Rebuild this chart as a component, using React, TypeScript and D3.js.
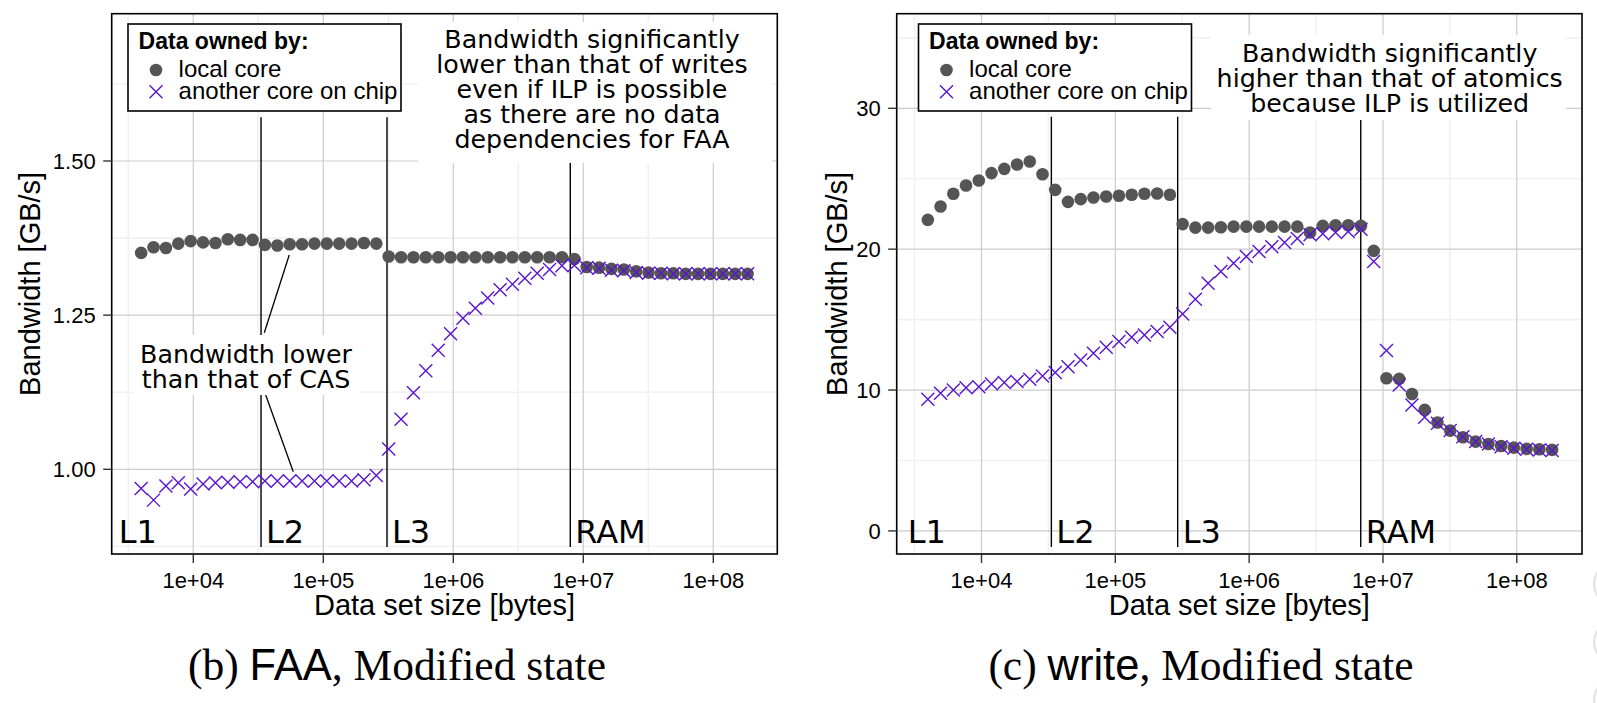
import React from "react";
import * as d3 from "d3";

// Data set sizes in bytes (x values shared by all series)
const sizes = [3972, 4945, 6157, 7665, 9545, 11885, 14799, 18427, 22944, 28568,
  35563, 44284, 55130, 68644, 85468, 106414, 132495, 164967, 205404, 255750,
  318420, 396460, 493630, 614630, 765250, 952820, 1186300, 1477100, 1839100, 2289900,
  2851000, 3549900, 4419900, 5503200, 6851900, 8531300, 10622000, 13225000, 16467000, 20503000,
  25527000, 31784000, 39574000, 49273000, 61350000, 76384000, 95106000, 118410000, 147430000, 183570000];

const faaLocal = [1.351, 1.360, 1.359, 1.366, 1.370, 1.368, 1.367, 1.373, 1.372, 1.372,
  1.364, 1.363, 1.365, 1.365, 1.366, 1.366, 1.366, 1.366, 1.367, 1.366,
  1.345, 1.344, 1.344, 1.344, 1.344, 1.344, 1.344, 1.344, 1.344, 1.344,
  1.344, 1.344, 1.344, 1.344, 1.344, 1.341, 1.328, 1.327, 1.325, 1.324,
  1.321, 1.319, 1.318, 1.318, 1.317, 1.317, 1.317, 1.317, 1.317, 1.317];

const faaRemote = [0.969, 0.950, 0.973, 0.978, 0.968, 0.976, 0.978, 0.979, 0.980, 0.980,
  0.981, 0.981, 0.981, 0.981, 0.981, 0.981, 0.981, 0.981, 0.983, 0.990,
  1.033, 1.081, 1.124, 1.160, 1.193, 1.220, 1.245, 1.261, 1.278, 1.291,
  1.300, 1.310, 1.318, 1.324, 1.330, 1.331, 1.327, 1.326, 1.323, 1.322,
  1.319, 1.318, 1.318, 1.317, 1.317, 1.317, 1.317, 1.317, 1.317, 1.317];

const writeLocal = [22.08, 23.03, 23.93, 24.52, 24.87, 25.40, 25.70, 26.01, 26.22, 25.32,
  24.21, 23.36, 23.55, 23.67, 23.74, 23.79, 23.86, 23.93, 23.95, 23.86,
  21.78, 21.53, 21.53, 21.56, 21.60, 21.60, 21.60, 21.60, 21.60, 21.60,
  21.18, 21.65, 21.70, 21.70, 21.65, 19.88, 10.84, 10.79, 9.72, 8.59,
  7.69, 7.12, 6.65, 6.34, 6.17, 6.03, 5.91, 5.82, 5.80, 5.75];

const writeRemote = [9.35, 9.77, 10.00, 10.17, 10.24, 10.43, 10.53, 10.60, 10.77, 11.00,
  11.24, 11.66, 12.14, 12.61, 13.04, 13.44, 13.75, 13.91, 14.15, 14.46,
  15.40, 16.45, 17.58, 18.41, 19.00, 19.48, 19.83, 20.18, 20.47, 20.75,
  21.02, 21.09, 21.18, 21.25, 21.42, 19.12, 12.80, 10.36, 8.94, 8.07,
  7.64, 7.12, 6.69, 6.34, 6.17, 5.98, 5.87, 5.80, 5.75, 5.70];

const xTicks = [1e4, 1e5, 1e6, 1e7, 1e8];
const xTickLabels = ["1e+04", "1e+05", "1e+06", "1e+07", "1e+08"];
const xMinor = [10 ** 3.5, 10 ** 4.5, 10 ** 5.5, 10 ** 6.5, 10 ** 7.5];

const faaYTicks = [1.0, 1.25, 1.5];
const faaYTickLabels = ["1.00", "1.25", "1.50"];
const faaYMinor = [0.875, 1.125, 1.375, 1.625];

const writeYTicks = [0, 10, 20, 30];
const writeYTickLabels = ["0", "10", "20", "30"];
const writeYMinor = [5, 15, 25, 35];

const cacheLabels = ["L1", "L2", "L3", "RAM"];
const faaCacheLines = [33190, 309000, 7940000];
const writeCacheLines = [33270, 292400, 6820000];

const legendTitle = "Data owned by:";
const legendLabels = ["local core", "another core on chip"];

const faaNote = ["Bandwidth significantly", "lower than that of writes", "even if ILP is possible", "as there are no data", "dependencies for FAA"];
const writeNote = ["Bandwidth significantly", "higher than that of atomics", "because ILP is utilized"];
const faaNote2 = ["Bandwidth lower", "than that of CAS"];

const SANS = "'Liberation Sans', Arial, Helvetica, sans-serif";
const DEJAVU = "'DejaVu Sans', sans-serif";
const SERIF = "'Liberation Serif', 'Times New Roman', serif";
const DOT = "#555555";
const CROSS = "#5a14d2";

type PanelProps = {
  x0: number; x1: number; y0: number; y1: number;
  xr: [number, number];
  yDom: [number, number]; yr: [number, number];
  yTicks: number[]; yTickLabels: string[]; yMinor: number[];
  local: number[]; remote: number[];
  cache: number[]; cacheTop: number; cacheBottom: number;
  l1Offset: number;
  titleX: number;
};

function cross(x: number, y: number, s: number) {
  return `M${x - s},${y - s}L${x + s},${y + s}M${x - s},${y + s}L${x + s},${y - s}`;
}

function Legend({ x, y }: { x: number; y: number }) {
  return (
    <g>
      <rect x={x} y={y} width={273} height={87} fill="white" stroke="black" strokeWidth={1.6} />
      <text x={x + 10.6} y={y + 25.3} fontFamily={SANS} fontWeight="bold" fontSize={23}>{legendTitle}</text>
      <circle cx={x + 28} cy={y + 46} r={6.3} fill={DOT} />
      <path d={cross(x + 28, y + 67.7, 6.5)} stroke={CROSS} strokeWidth={1.4} fill="none" />
      <text x={x + 50.6} y={y + 53.3} fontFamily={SANS} fontSize={24}>{legendLabels[0]}</text>
      <text x={x + 50.6} y={y + 75.3} fontFamily={SANS} fontSize={24}>{legendLabels[1]}</text>
    </g>
  );
}

function Note({ lines, cx, firstBaseline, box }: { lines: string[]; cx: number; firstBaseline: number; box: [number, number, number, number] }) {
  return (
    <g>
      <rect x={box[0]} y={box[1]} width={box[2] - box[0]} height={box[3] - box[1]} fill="white" />
      {lines.map((l, i) => (
        <text key={i} x={cx} y={firstBaseline + i * 25} textAnchor="middle" fontFamily={DEJAVU} fontSize={25.3}>{l}</text>
      ))}
    </g>
  );
}

function Panel(p: PanelProps & { children?: React.ReactNode }) {
  const x = d3.scaleLog().domain([1e4, 1e8]).range(p.xr);
  const y = d3.scaleLinear().domain(p.yDom).range(p.yr);
  const inX = (v: number) => x(v) >= p.x0 && x(v) <= p.x1;
  const inY = (v: number) => y(v) >= p.y0 && y(v) <= p.y1;
  return (
    <g>
      <rect x={p.x0} y={p.y0} width={p.x1 - p.x0} height={p.y1 - p.y0} fill="white" />
      {xMinor.filter(inX).map((v, i) => (
        <line key={"xm" + i} x1={x(v)} x2={x(v)} y1={p.y0} y2={p.y1} stroke="#f1f1f1" strokeWidth={1.6} />
      ))}
      {p.yMinor.filter(inY).map((v, i) => (
        <line key={"ym" + i} x1={p.x0} x2={p.x1} y1={y(v)} y2={y(v)} stroke="#f1f1f1" strokeWidth={1.6} />
      ))}
      {xTicks.map((v, i) => (
        <line key={"xg" + i} x1={x(v)} x2={x(v)} y1={p.y0} y2={p.y1} stroke="#cbcbcb" strokeWidth={1.2} />
      ))}
      {p.yTicks.map((v, i) => (
        <line key={"yg" + i} x1={p.x0} x2={p.x1} y1={y(v)} y2={y(v)} stroke="#cbcbcb" strokeWidth={1.2} />
      ))}
      {p.cache.map((v, i) => (
        <line key={"c" + i} x1={x(v)} x2={x(v)} y1={y(p.cacheTop)} y2={y(p.cacheBottom)} stroke="black" strokeWidth={1.4} />
      ))}
      {cacheLabels.map((l, i) => (
        <text key={"cl" + i} x={i === 0 ? p.x0 + p.l1Offset : x(p.cache[i - 1]) + 5} y={543.3}
          fontFamily={DEJAVU} fontSize={32}>{l}</text>
      ))}
      {p.children}
      {p.local.map((v, i) => (
        <circle key={"d" + i} cx={x(sizes[i])} cy={y(v)} r={6.3} fill={DOT} />
      ))}
      {p.remote.map((v, i) => (
        <path key={"r" + i} d={cross(x(sizes[i]), y(v), 6.5)} stroke={CROSS} strokeWidth={1.4} fill="none" />
      ))}
      <rect x={p.x0} y={p.y0} width={p.x1 - p.x0} height={p.y1 - p.y0} fill="none" stroke="black" strokeWidth={1.6} />
      {p.yTicks.map((v, i) => (
        <g key={"yt" + i}>
          <line x1={p.x0 - 8.5} x2={p.x0} y1={y(v)} y2={y(v)} stroke="#333" strokeWidth={1.4} />
          <text x={p.x0 - 16} y={y(v) + 7.8} textAnchor="end" fontFamily={SANS} fontSize={22}>{p.yTickLabels[i]}</text>
        </g>
      ))}
      {xTicks.map((v, i) => (
        <g key={"xt" + i}>
          <line x1={x(v)} x2={x(v)} y1={p.y1} y2={p.y1 + 9} stroke="#333" strokeWidth={1.4} />
          <text x={x(v)} y={587.5} textAnchor="middle" fontFamily={SANS} fontSize={22}>{xTickLabels[i]}</text>
        </g>
      ))}
      <text x={(p.x0 + p.x1) / 2} y={614.5} textAnchor="middle" fontFamily={SANS} fontSize={29}>Data set size [bytes]</text>
      <text transform={`translate(${p.titleX},${(p.y0 + p.y1) / 2}) rotate(-90)`} textAnchor="middle" fontFamily={SANS} fontSize={29}>Bandwidth [GB/s]</text>
    </g>
  );
}

export default function App() {
  const xl = d3.scaleLog().domain([1e4, 1e8]).range([193.3, 713.3]);
  const yl = d3.scaleLinear().domain([1.0, 1.5]).range([469.3, 161]);
  return (
    <svg width={1597} height={703} style={{ position: "absolute", left: 0, top: 0, background: "white" }}>
      <rect x={0} y={0} width={1597} height={703} fill="white" />
      <Panel x0={111.7} x1={777.3} y0={13.7} y1={554} xr={[193.3, 713.3]}
        yDom={[1.0, 1.5]} yr={[469.3, 161]} yTicks={faaYTicks} yTickLabels={faaYTickLabels} yMinor={faaYMinor}
        local={faaLocal} remote={faaRemote} cache={faaCacheLines} cacheTop={1.571} cacheBottom={0.874}
        l1Offset={7} titleX={40.4}>
        <Legend x={128} y={24} />
        <Note lines={faaNote} cx={592} firstBaseline={48.3} box={[418, 22, 772, 163]} />
        <line x1={xl(54700)} y1={yl(1.3476)} x2={xl(35160)} y2={yl(1.2215)} stroke="black" strokeWidth={1.3} />
        <line x1={xl(36060)} y1={yl(1.1205)} x2={xl(58750)} y2={yl(0.996)} stroke="black" strokeWidth={1.3} />
        <Note lines={faaNote2} cx={246} firstBaseline={362.7} box={[134, 335, 360, 395]} />
      </Panel>
      <Panel x0={896.7} x1={1582} y0={13.7} y1={554} xr={[981.5, 1516.8]}
        yDom={[0, 30]} yr={[530.9, 108.3]} yTicks={writeYTicks} yTickLabels={writeYTickLabels} yMinor={writeYMinor}
        local={writeLocal} remote={writeRemote} cache={writeCacheLines} cacheTop={29.4} cacheBottom={-1.14}
        l1Offset={11} titleX={847}>
        <Legend x={918.5} y={24} />
        <Note lines={writeNote} cx={1389.7} firstBaseline={61.7} box={[1211, 35, 1566, 120]} />
      </Panel>
      <text x={397} y={680} textAnchor="middle" fontSize={43.5} fontFamily={SERIF}>
        <tspan>(b) </tspan><tspan fontFamily={SANS}>FAA</tspan><tspan>, Modified state</tspan>
      </text>
      <text x={1201} y={680} textAnchor="middle" fontSize={43.5} fontFamily={SERIF}>
        <tspan>(c) </tspan><tspan fontFamily={SANS}>write</tspan><tspan>, Modified state</tspan>
      </text>
      {[584, 642, 700].map((cy, i) => (
        <circle key={i} cx={1616} cy={cy} r={22} fill="#fdfdfd" stroke="#e2e2e2" strokeWidth={2} />
      ))}
    </svg>
  );
}
